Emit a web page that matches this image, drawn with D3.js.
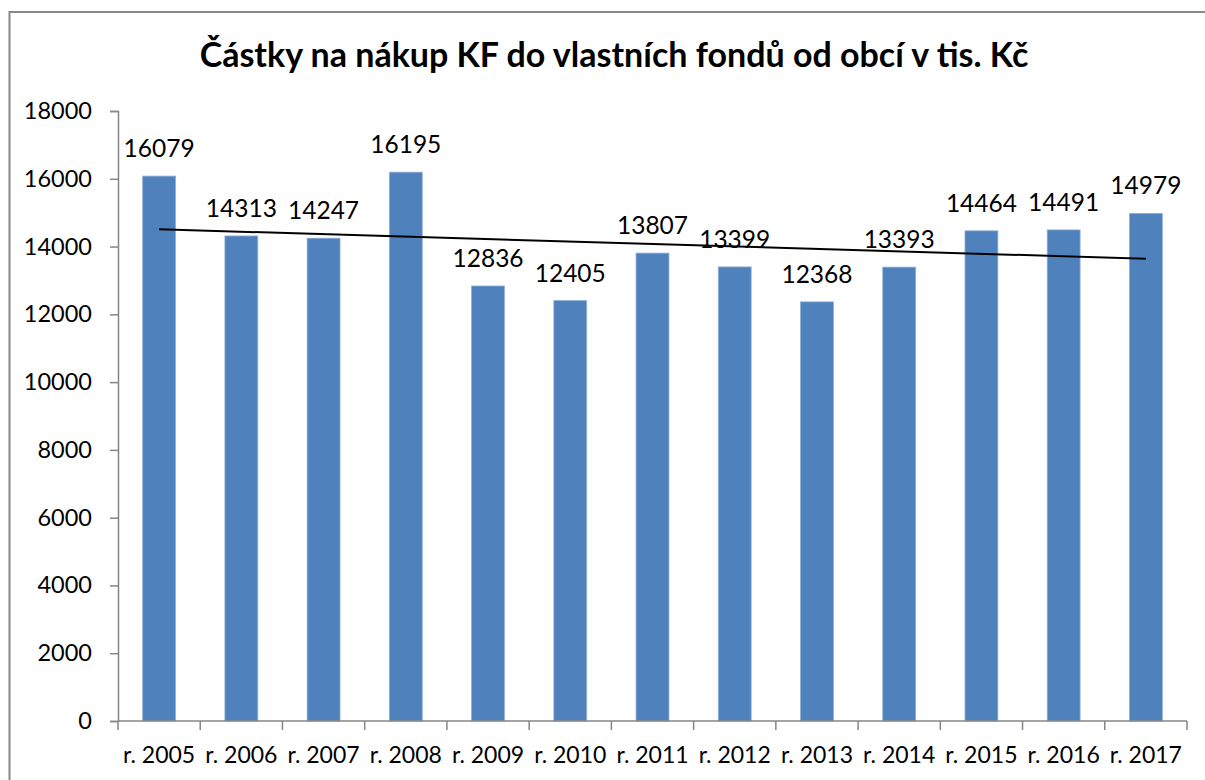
<!DOCTYPE html>
<html>
<head>
<meta charset="utf-8">
<script src="https://cdn.jsdelivr.net/npm/d3@7"></script>
<style>
  body { margin: 0; background: #fff; }
  svg { display: block; font-family: Lato, "Open Sans", sans-serif; }
</style>
</head>
<body>
<div id="chart"></div>
<script>
const years = ['r. 2005', 'r. 2006', 'r. 2007', 'r. 2008', 'r. 2009', 'r. 2010', 'r. 2011',
  'r. 2012', 'r. 2013', 'r. 2014', 'r. 2015', 'r. 2016', 'r. 2017']
const amounts = [16079, 14313, 14247, 16195, 12836, 12405, 13807, 13399, 12368, 13393, 14464, 14491, 14979]
const yTicks = [0, 2000, 4000, 6000, 8000, 10000, 12000, 14000, 16000, 18000]
const title = 'Částky na nákup KF do vlastních fondů od obcí v tis. Kč'

const w = 1205
const h = 780
const plot = { left: 118, right: 1187, top: 111, bottom: 721 }

const svg = d3.select('#chart')
  .append('svg')
  .attr('width', w)
  .attr('height', h)

// chart frame (right and bottom edges fall outside the picture)
svg.append('rect')
  .attr('x', 9.5)
  .attr('y', 12)
  .attr('width', w + 20)
  .attr('height', h + 20)
  .attr('fill', 'none')
  .attr('stroke', '#878787')
  .attr('stroke-width', 2)

svg.append('text')
  .attr('x', 614)
  .attr('y', 67)
  .attr('text-anchor', 'middle')
  .attr('font-size', 34)
  .attr('font-weight', 'bold')
  .attr('fill', '#000')
  .text(title)

const x = d3.scaleBand()
  .domain(years)
  .range([plot.left, plot.right])
  .paddingInner(0.6)
  .paddingOuter(0.3)

const y = d3.scaleLinear()
  .domain([0, 18000])
  .range([plot.bottom, plot.top])

const yAxis = d3.axisLeft(y)
  .tickValues(yTicks)
  .tickSize(8)
  .tickPadding(18)
  .tickFormat(d3.format('d'))

const gy = svg.append('g')
  .attr('transform', 'translate(' + plot.left + ',0)')
  .call(yAxis)
gy.select('.domain').attr('stroke', '#868686').attr('stroke-width', 1.5)
gy.selectAll('.tick line').attr('stroke', '#868686').attr('stroke-width', 1.5)
gy.selectAll('.tick text')
  .attr('font-size', 23.5)
  .attr('fill', '#000')
  .attr('font-family', 'Lato, sans-serif')

// bars
svg.selectAll('rect.bar')
  .data(amounts)
  .enter()
  .append('rect')
  .attr('class', 'bar')
  .attr('x', (d, i) => x(years[i]))
  .attr('y', d => y(d))
  .attr('width', x.bandwidth())
  .attr('height', d => y(0) - y(d))
  .attr('fill', '#4F81BD')
  .attr('stroke', '#8fb0d8')
  .attr('stroke-width', 0.8)

// x axis with ticks between categories
const xEdge = d3.scaleLinear().domain([0, years.length]).range([plot.left, plot.right])
const gx = svg.append('g')
gx.append('line')
  .attr('x1', plot.left)
  .attr('x2', plot.right)
  .attr('y1', y(0))
  .attr('y2', y(0))
  .attr('stroke', '#868686')
  .attr('stroke-width', 1.5)
gx.selectAll('line.tk')
  .data(d3.range(years.length + 1))
  .enter()
  .append('line')
  .attr('class', 'tk')
  .attr('x1', d => xEdge(d))
  .attr('x2', d => xEdge(d))
  .attr('y1', y(0))
  .attr('y2', y(0) + 9)
  .attr('stroke', '#868686')
  .attr('stroke-width', 1.5)
gx.selectAll('text')
  .data(years)
  .enter()
  .append('text')
  .attr('x', d => xEdge(years.indexOf(d) + 0.5))
  .attr('y', 763)
  .attr('text-anchor', 'middle')
  .attr('font-size', 23)
  .text(d => d)

// linear trend line
const n = amounts.length
const xs = d3.range(1, n + 1)
const mx = d3.mean(xs)
const my = d3.mean(amounts)
const slope = d3.sum(xs, (v, i) => (v - mx) * (amounts[i] - my)) / d3.sum(xs, v => (v - mx) * (v - mx))
const icpt = my - slope * mx
svg.append('line')
  .attr('x1', xEdge(0.5))
  .attr('x2', xEdge(n - 0.5))
  .attr('y1', y(icpt + slope * 1))
  .attr('y2', y(icpt + slope * n))
  .attr('stroke', '#000')
  .attr('stroke-width', 2)

// value labels
svg.selectAll('text.val')
  .data(amounts)
  .enter()
  .append('text')
  .attr('class', 'val')
  .attr('x', (d, i) => xEdge(i + 0.5))
  .attr('y', d => y(d) - 19)
  .attr('text-anchor', 'middle')
  .attr('font-size', 24.5)
  .text(d => d)
</script>
</body>
</html>
